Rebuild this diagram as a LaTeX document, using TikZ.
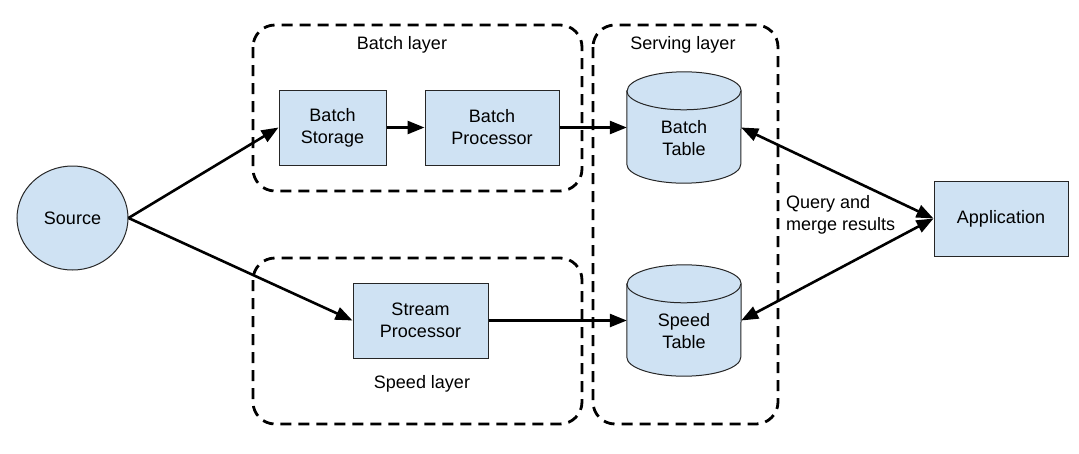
\documentclass[tikz,border=0pt]{standalone}
\usepackage{fontspec}
\setmainfont{Liberation Sans}
\usetikzlibrary{arrows.meta,shapes.geometric}
\definecolor{boxfill}{HTML}{CFE2F3}
\newcommand\drawcyl[1]{%
  \draw[draw=black!85,line width=1pt,fill=boxfill]
    ([yshift=-19pt]#1.north west) -- ([yshift=19pt]#1.south west)
    arc[start angle=180,end angle=360,x radius=57pt,y radius=19pt]
    -- ([yshift=-19pt]#1.north east)
    arc[start angle=0,end angle=180,x radius=57pt,y radius=19pt] -- cycle;
  \draw[draw=black!85,line width=1pt]
    ([yshift=-19pt]#1.north west)
    arc[start angle=180,end angle=360,x radius=57pt,y radius=19pt];}
\begin{document}
\begin{tikzpicture}[x=1pt,y=-1pt,
  txt/.style={font=\fontsize{18}{22}\selectfont,align=center,inner sep=0pt},
  box/.style={txt,draw=black!85,line width=1pt,fill=boxfill},
  tbl/.style={draw=none,inner sep=0pt,minimum width=114pt,minimum height=111pt},
  layer/.style={draw=black,line width=2.8pt,dash pattern=on 11pt off 7pt,rounded corners=22pt},
  conn/.style={line width=2.6pt,-{Triangle[length=17pt,width=13pt]}},
  bconn/.style={line width=2.6pt,{Triangle[length=17pt,width=13pt]}-{Triangle[length=17pt,width=13pt]}}]
\useasboundingbox (0,0) rectangle (1079,453);
% layers
\draw[layer] (253,25) rectangle (582,191);
\draw[layer] (593,25) rectangle (778,424);
\draw[layer] (253,258) rectangle (582,424);
\node[txt] (bl) at (402,45) {Batch layer};
\node[txt] (sl) at (683,45) {Serving layer};
\node[txt] (spl) at (422,384) {Speed layer};
% nodes
\node[box,ellipse,minimum width=111pt,minimum height=104pt] (src) at (72.5,218) {Source};
\node[box,minimum width=107pt,minimum height=75pt] (bs) at (332.5,127.5) {Batch\\Storage};
\node[box,minimum width=134pt,minimum height=75pt] (bp) at (492,127.5) {Batch\\Processor};
\node[box,minimum width=135pt,minimum height=75pt] (sp) at (420.5,320.5) {Stream\\Processor};
\node[box,minimum width=134pt,minimum height=75pt] (app) at (1001,218.5) {Application};
\node[tbl] (bt) at (684,127.5) {};
\drawcyl{bt}
\node[txt] (btl) at ([yshift=-10.5pt]bt.center) {Batch\\Table};
\node[tbl] (st) at (684,320.5) {};
\drawcyl{st}
\node[txt] (stl) at ([yshift=-10.5pt]st.center) {Speed\\Table};
\node[txt,anchor=west,align=left] (q) at (786,215) {Query and\\merge results};
% connectors
\draw[conn] (src.east) -- (bs.west);
\draw[conn] (src.east) -- (sp.west);
\draw[conn] (bs) -- (bp);
\draw[conn] (bp) -- (bt.west);
\draw[conn] (sp) -- (st.west);
\draw[bconn] (bt.east) -- (app.west);
\draw[bconn] (st.east) -- (app.west);
\end{tikzpicture}
\end{document}
